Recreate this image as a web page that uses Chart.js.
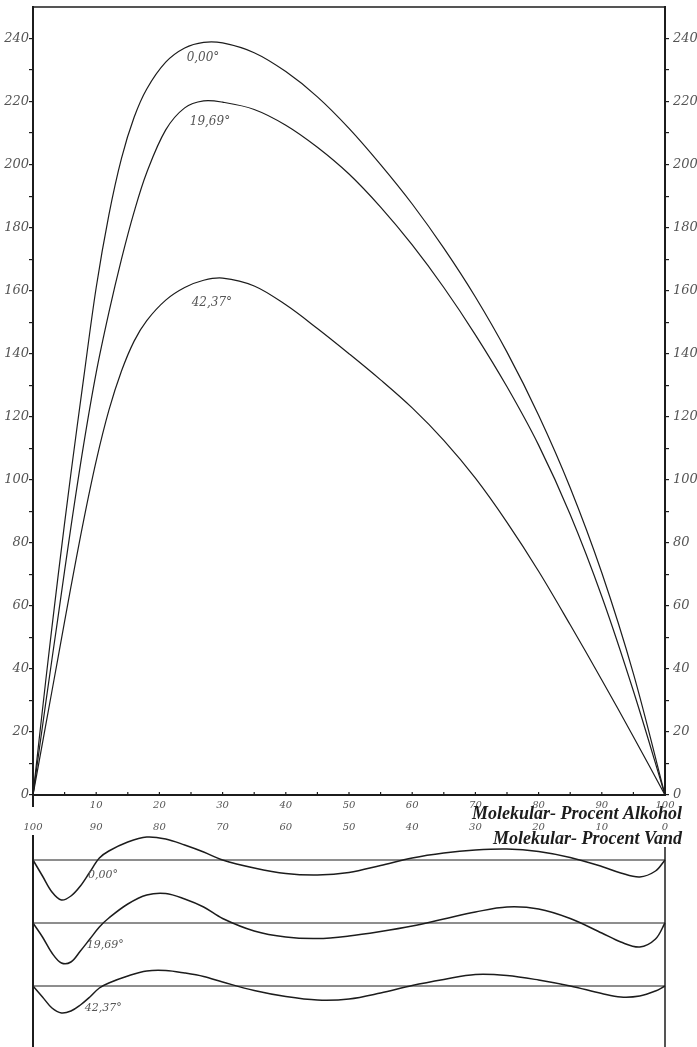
<!DOCTYPE html>
<html>
<head>
<meta charset="utf-8">
<script src="https://cdn.jsdelivr.net/npm/chart.js@4.4.0/dist/chart.umd.min.js"></script>
<style>
  html, body { margin: 0; padding: 0; background: #fff; }
  #top { position: absolute; left: 0; top: 0; width: 697px; height: 850px; }
  #bottom { position: absolute; left: 0; top: 827px; width: 697px; height: 220px; }
</style>
</head>
<body>
<div id="top"><canvas id="mainChart"></canvas></div>
<div id="bottom"><canvas id="devChart"></canvas></div>
<script>
// main curves: x = Molekular-Procent Alkohol
const alcohol = [0, 2, 4, 6, 8, 10, 12, 14, 16, 18, 21, 24, 27, 30, 35, 40, 45, 50, 55, 60, 65, 70, 75, 80, 85, 90, 95, 100];
const t000  = [0, 36, 70, 102, 132, 161, 184, 202, 215, 224, 232.5, 237, 238.8, 238.6, 235.5, 229.5, 221.5, 211.5, 200, 187.5, 173.5, 158, 140.5, 120.5, 97.5, 70.5, 38.5, 0];
const t1969 = [0, 29, 57, 85, 111, 134, 153, 170, 185, 197.5, 211, 218, 220.2, 219.8, 217.5, 212.5, 205.5, 197, 186.5, 174.5, 161, 146, 129.5, 111, 89, 63, 33, 0];
const t4237 = [0, 22, 44, 66, 87, 106, 122, 134.5, 144, 150.5, 157, 161, 163.3, 164, 161.5, 155.5, 148, 140, 131.7, 122.8, 112.5, 100.5, 86.5, 71, 54, 36.5, 18.5, 0];

// deviation curves (lower panel), same x
const devX    = [0, 1.5, 3, 4.5, 6, 7.5, 9, 10.5, 12, 15, 18, 21, 24, 27, 30, 35, 40, 45, 50, 55, 60, 65, 70, 75, 80, 85, 90, 93, 96, 98.5, 100];
const dev000  = [0, -1.6, -3.2, -4.0, -3.6, -2.6, -1.2, 0.2, 0.9, 1.8, 2.3, 2.1, 1.5, 0.8, 0, -0.8, -1.35, -1.5, -1.25, -0.55, 0.2, 0.7, 1.0, 1.1, 0.85, 0.25, -0.65, -1.3, -1.7, -1.1, 0];
const dev1969 = [0, -1.4, -3.0, -4.0, -3.9, -2.8, -1.6, -0.4, 0.5, 1.9, 2.8, 2.95, 2.4, 1.6, 0.45, -0.8, -1.4, -1.55, -1.3, -0.85, -0.3, 0.4, 1.1, 1.6, 1.4, 0.45, -1.0, -1.9, -2.4, -1.6, 0];
const dev4237 = [0, -1.1, -2.2, -2.7, -2.5, -1.9, -1.1, -0.2, 0.3, 1.0, 1.5, 1.55, 1.3, 0.95, 0.4, -0.45, -1.05, -1.4, -1.3, -0.7, 0.05, 0.65, 1.15, 1.05, 0.6, 0, -0.75, -1.1, -1.0, -0.5, 0];

const yTicks = [0, 20, 40, 60, 80, 100, 120, 140, 160, 180, 200, 220, 240];
const xTicks = [10, 20, 30, 40, 50, 60, 70, 80, 90, 100];

const ink = '#1c1c1c';
const grey = '#555';
const numFont = { family: 'DejaVu Serif', style: 'italic', size: 13 };
const smallFont = { family: 'DejaVu Serif', style: 'italic', size: 10 };

// text anchors for the curve names, in data units
const mainLabels = [
  { text: '0,00°', x: 26.9, y: 234 },
  { text: '19,69°', x: 28, y: 213.5 },
  { text: '42,37°', x: 28.3, y: 156 }
];
const devLabels = [
  { text: '0,00°', x: 8.7, y: -1.5, axis: 'y1' },
  { text: '19,69°', x: 8.5, y: -2.2, axis: 'y2' },
  { text: '42,37°', x: 8.2, y: -2.2, axis: 'y3' }
];

function pts(xs, ys) {
  return xs.map((x, i) => ({ x: x, y: ys[i] }));
}

const mainDecor = {
  id: 'mainDecor',
  afterDraw(chart) {
    const { ctx, chartArea, scales } = chart;
    ctx.save();
    ctx.strokeStyle = ink;
    // top border
    ctx.lineWidth = 1.5;
    ctx.beginPath();
    ctx.moveTo(chartArea.left - 1, chartArea.top);
    ctx.lineTo(chartArea.right + 1, chartArea.top);
    ctx.stroke();
    // left axis runs on below the x axis
    ctx.lineWidth = 2;
    ctx.beginPath();
    ctx.moveTo(chartArea.left, chartArea.bottom);
    ctx.lineTo(chartArea.left, chartArea.bottom + 12);
    ctx.stroke();
    // small inward ticks on x axis every 5
    ctx.lineWidth = 1.2;
    for (let v = 5; v < 100; v += 5) {
      const px = scales.x.getPixelForValue(v);
      ctx.beginPath();
      ctx.moveTo(px, chartArea.bottom);
      ctx.lineTo(px, chartArea.bottom - 3);
      ctx.stroke();
    }
    // curve names
    ctx.fillStyle = grey;
    ctx.font = 'italic 12px "DejaVu Serif"';
    ctx.textAlign = 'center';
    ctx.textBaseline = 'middle';
    mainLabels.forEach(l => {
      ctx.fillText(l.text, scales.x.getPixelForValue(l.x), scales.y.getPixelForValue(l.y));
    });
    // axis titles
    ctx.fillStyle = ink;
    ctx.font = 'italic bold 18px "Liberation Serif"';
    ctx.textAlign = 'right';
    ctx.fillText('Molekular- Procent Alkohol', chartArea.right + 17, chartArea.bottom + 19);
    ctx.fillText('Molekular- Procent Vand', chartArea.right + 17, chartArea.bottom + 44);
    ctx.restore();
  }
};

const yAxis = (pos, w, pad) => ({
  type: 'linear',
  position: pos,
  min: 0,
  max: 250,
  ticks: {
    stepSize: 10,
    autoSkip: false,
    padding: pad,
    color: grey,
    font: numFont,
    callback: v => (v === 250 ? null : (yTicks.includes(v) ? String(v) : ''))
  },
  grid: { drawOnChartArea: false, tickLength: 4, color: ink, lineWidth: 1.2 },
  border: { color: ink, width: 2 },
  afterFit: s => { s.width = w; s.paddingTop = 0; s.paddingBottom = 0; }
});

new Chart(document.getElementById('mainChart'), {
  type: 'line',
  data: {
    datasets: [
      { label: '0,00°', data: pts(alcohol, t000) },
      { label: '19,69°', data: pts(alcohol, t1969) },
      { label: '42,37°', data: pts(alcohol, t4237) }
    ]
  },
  options: {
    responsive: true,
    maintainAspectRatio: false,
    animation: false,
    layout: { padding: { top: 7 } },
    plugins: { legend: { display: false }, tooltip: { enabled: false } },
    elements: {
      point: { radius: 0 },
      line: { borderColor: ink, borderWidth: 1.2, tension: 0.35, fill: false }
    },
    scales: {
      x: {
        type: 'linear',
        position: 'bottom',
        min: 0,
        max: 100,
        ticks: {
          stepSize: 10,
          autoSkip: false,
          maxRotation: 0,
          padding: -4,
          color: grey,
          font: smallFont,
          callback: v => (xTicks.includes(v) ? String(v) : '')
        },
        grid: { display: false },
        border: { color: ink, width: 2 },
        afterFit: s => { s.height = 19; s.paddingLeft = 0; s.paddingRight = 0; }
      },
      x2: {
        type: 'linear',
        position: 'bottom',
        reverse: true,
        min: 0,
        max: 100,
        ticks: {
          stepSize: 10,
          autoSkip: false,
          maxRotation: 0,
          padding: -1,
          color: grey,
          font: smallFont,
          callback: v => String(v)
        },
        grid: { display: false },
        border: { display: false },
        afterFit: s => { s.height = 36; s.paddingLeft = 0; s.paddingRight = 0; }
      },
      y: yAxis('left', 33, 0),
      y2: yAxis('right', 32, 4)
    }
  },
  plugins: [mainDecor]
});

const devDecor = {
  id: 'devDecor',
  afterDraw(chart) {
    const { ctx, chartArea, scales } = chart;
    ctx.save();
    ctx.strokeStyle = ink;
    ctx.lineWidth = 2;
    ctx.beginPath();
    ctx.moveTo(chartArea.left, chartArea.top + 8);
    ctx.lineTo(chartArea.left, chartArea.bottom);
    ctx.stroke();
    ctx.lineWidth = 1.5;
    ctx.beginPath();
    ctx.moveTo(chartArea.right, chartArea.top + 20);
    ctx.lineTo(chartArea.right, chartArea.bottom);
    ctx.stroke();
    ctx.fillStyle = grey;
    ctx.font = 'italic 11px "DejaVu Serif"';
    ctx.textAlign = 'left';
    ctx.textBaseline = 'middle';
    devLabels.forEach(l => {
      ctx.fillText(l.text, scales.x.getPixelForValue(l.x), scales[l.axis].getPixelForValue(l.y));
    });
    ctx.restore();
  }
};

const baseLine = axis => ({ data: [{ x: 0, y: 0 }, { x: 100, y: 0 }], yAxisID: axis, borderWidth: 1, tension: 0, clip: false });
const devLine = (ys, axis) => ({ data: pts(devX, ys), yAxisID: axis, borderWidth: 1.5, clip: false });

new Chart(document.getElementById('devChart'), {
  type: 'line',
  data: {
    datasets: [
      baseLine('y1'), devLine(dev000, 'y1'),
      baseLine('y2'), devLine(dev1969, 'y2'),
      baseLine('y3'), devLine(dev4237, 'y3')
    ]
  },
  options: {
    responsive: true,
    maintainAspectRatio: false,
    animation: false,
    layout: { padding: { left: 33, right: 32, top: 0, bottom: 0 } },
    plugins: { legend: { display: false }, tooltip: { enabled: false } },
    elements: {
      point: { radius: 0 },
      line: { borderColor: ink, tension: 0.35, fill: false }
    },
    scales: {
      x: { type: 'linear', min: 0, max: 100, display: false },
      y1: { type: 'linear', axis: 'y', min: -18.7, max: 3.3, display: false },
      y2: { type: 'linear', axis: 'y', min: -12.4, max: 9.6, display: false },
      y3: { type: 'linear', axis: 'y', min: -6.1, max: 15.9, display: false }
    }
  },
  plugins: [devDecor]
});
</script>
</body>
</html>
